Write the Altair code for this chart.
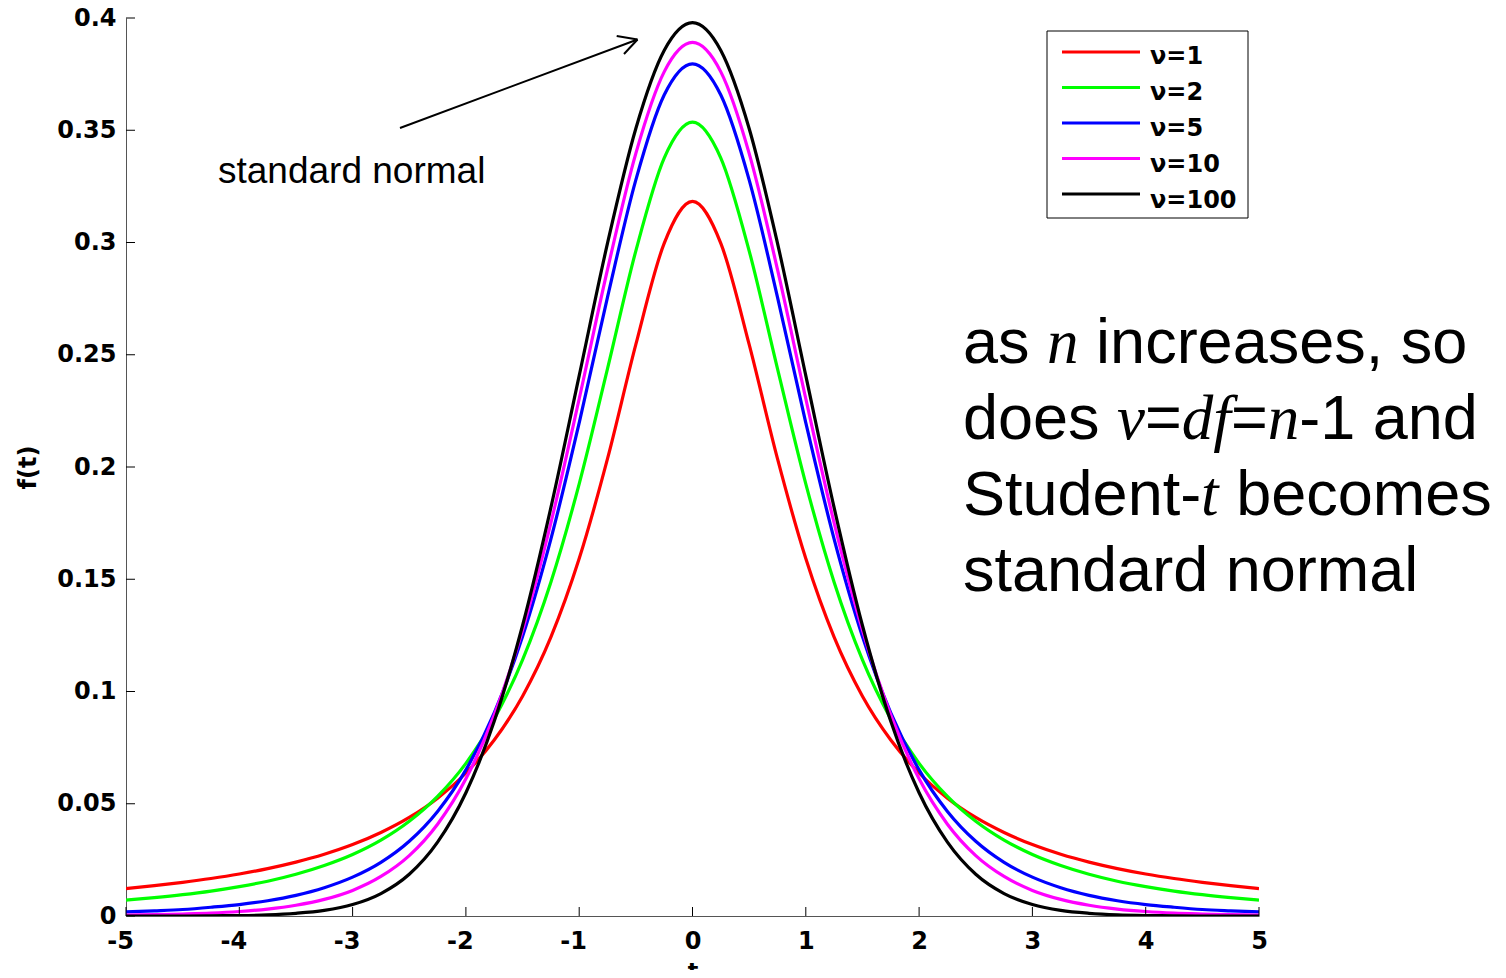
import altair as alt
import pandas as pd

# ---------------- data ----------------
T = [-5.0, -4.75, -4.5, -4.25, -4.0, -3.75, -3.5, -3.25, -3.0, -2.75, -2.5,
     -2.25, -2.0, -1.75, -1.5, -1.25, -1.0, -0.75, -0.5, -0.25, 0.0,
     0.25, 0.5, 0.75, 1.0, 1.25, 1.5, 1.75, 2.0, 2.25, 2.5,
     2.75, 3.0, 3.25, 3.5, 3.75, 4.0, 4.25, 4.5, 4.75, 5.0]

NU1 = [0.0122, 0.0135, 0.0150, 0.0167, 0.0187, 0.0211, 0.0240, 0.0275, 0.0318, 0.0372, 0.0439,
       0.0525, 0.0637, 0.0784, 0.0979, 0.1242, 0.1592, 0.2037, 0.2546, 0.2996, 0.3183,
       0.2996, 0.2546, 0.2037, 0.1592, 0.1242, 0.0979, 0.0784, 0.0637, 0.0525, 0.0439,
       0.0372, 0.0318, 0.0275, 0.0240, 0.0211, 0.0187, 0.0167, 0.0150, 0.0135, 0.0122]
NU2 = [0.0071, 0.0082, 0.0095, 0.0111, 0.0131, 0.0155, 0.0186, 0.0225, 0.0274, 0.0338, 0.0422,
       0.0533, 0.0680, 0.0878, 0.1141, 0.1487, 0.1925, 0.2438, 0.2963, 0.3376, 0.3536,
       0.3376, 0.2963, 0.2438, 0.1925, 0.1487, 0.1141, 0.0878, 0.0680, 0.0533, 0.0422,
       0.0338, 0.0274, 0.0225, 0.0186, 0.0155, 0.0131, 0.0111, 0.0095, 0.0082, 0.0071]
NU5 = [0.0018, 0.0023, 0.0029, 0.0039, 0.0051, 0.0068, 0.0092, 0.0126, 0.0173, 0.0239, 0.0333,
       0.0466, 0.0651, 0.0905, 0.1245, 0.1679, 0.2197, 0.2757, 0.3279, 0.3657, 0.3796,
       0.3657, 0.3279, 0.2757, 0.2197, 0.1679, 0.1245, 0.0905, 0.0651, 0.0466, 0.0333,
       0.0239, 0.0173, 0.0126, 0.0092, 0.0068, 0.0051, 0.0039, 0.0029, 0.0023, 0.0018]
NU10 = [0.0004, 0.0006, 0.0009, 0.0013, 0.0020, 0.0031, 0.0048, 0.0074, 0.0114, 0.0176, 0.0269,
        0.0409, 0.0611, 0.0895, 0.1274, 0.1751, 0.2304, 0.2880, 0.3397, 0.3760, 0.3891,
        0.3760, 0.3397, 0.2880, 0.2304, 0.1751, 0.1274, 0.0895, 0.0611, 0.0409, 0.0269,
        0.0176, 0.0114, 0.0074, 0.0048, 0.0031, 0.0020, 0.0013, 0.0009, 0.0006, 0.0004]
NU100 = [0.0000, 0.0000, 0.0000, 0.0001, 0.0002, 0.0005, 0.0012, 0.0025, 0.0051, 0.0100, 0.0186,
         0.0329, 0.0549, 0.0867, 0.1294, 0.1819, 0.2407, 0.2997, 0.3508, 0.3855, 0.3979,
         0.3855, 0.3508, 0.2997, 0.2407, 0.1819, 0.1294, 0.0867, 0.0549, 0.0329, 0.0186,
         0.0100, 0.0051, 0.0025, 0.0012, 0.0005, 0.0002, 0.0001, 0.0000, 0.0000, 0.0000]

SERIES = ["ν=1", "ν=2", "ν=5", "ν=10", "ν=100"]
VALUES = [NU1, NU2, NU5, NU10, NU100]
COLORS = ["#ff0000", "#00ff00", "#0000ff", "#ff00ff", "#000000"]

X_TICKS = [-5, -4, -3, -2, -1, 0, 1, 2, 3, 4, 5]
Y_TICKS = [0, 0.05, 0.1, 0.15, 0.2, 0.25, 0.3, 0.35, 0.4]

# ---------------- layout ----------------
W, H = 1133, 898
AX_FONT = "DejaVu Sans"
SANS = "Liberation Sans"
SERIF = "Liberation Serif"

xscale = alt.Scale(domain=[-5, 5], nice=False, zero=False)
yscale = alt.Scale(domain=[0, 0.4], nice=False, zero=False)

X_AXIS = alt.Axis(
    values=X_TICKS, labelExpr="'' + datum.value", title="t",
    labelFont=AX_FONT, labelFontSize=24, labelFontWeight="bold", labelColor="black",
    labelPadding=13, labelFlush=False, labelOverlap=False, ticks=False, grid=False,
    labelOffset={"condition": {"test": "datum.value < 0", "value": -6}, "value": 0},
    domainColor="#555555", domainWidth=1,
    titleFont=AX_FONT, titleFontSize=22, titleFontWeight="bold", titleColor="black",
    titleX=W / 2, titleY=44, titleAlign="center", titleBaseline="top",
)
Y_AXIS = alt.Axis(
    values=Y_TICKS, labelExpr="'' + datum.value", title="f(t)",
    labelFont=AX_FONT, labelFontSize=24, labelFontWeight="bold", labelColor="black",
    labelPadding=10, labelFlush=False, labelOverlap=False, ticks=False, grid=False,
    domainColor="#555555", domainWidth=1,
    titleFont=AX_FONT, titleFontSize=24, titleFontWeight="bold", titleColor="black",
    titleX=-98, titleY=H / 2, titleAngle=270, titleAlign="center", titleBaseline="middle",
)

layers = []

# curves, drawn in order so that nu=100 is on top
for name, vals, col in zip(SERIES, VALUES, COLORS):
    df = pd.DataFrame({"t": T, "f": vals})
    layers.append(
        alt.Chart(df).mark_line(strokeWidth=3.2, interpolate="monotone", color=col, clip=True).encode(
            x=alt.X("t:Q", scale=xscale, axis=X_AXIS),
            y=alt.Y("f:Q", scale=yscale, axis=Y_AXIS),
        )
    )

# inward tick marks
xt = pd.DataFrame({"t": X_TICKS})
layers.append(
    alt.Chart(xt).mark_rule(color="black", strokeWidth=1).encode(
        x=alt.X("t:Q", scale=xscale, axis=X_AXIS),
        y=alt.value(H), y2=alt.value(H - 9),
    )
)
yt = pd.DataFrame({"f": Y_TICKS})
layers.append(
    alt.Chart(yt).mark_rule(color="black", strokeWidth=1).encode(
        y=alt.Y("f:Q", scale=yscale, axis=Y_AXIS),
        x=alt.value(0), x2=alt.value(9),
    )
)

one = pd.DataFrame({"_": [0]})

# legend box
layers.append(
    alt.Chart(one).mark_rect(fill="white", stroke="black", strokeWidth=1).encode(
        x=alt.value(921), x2=alt.value(1122), y=alt.value(13), y2=alt.value(200)
    )
)
leg = pd.DataFrame({"name": SERIES, "rank": list(range(len(SERIES)))})
layers.append(
    alt.Chart(leg).transform_calculate(py="34 + datum.rank * 35.5").mark_rule(strokeWidth=3).encode(
        x=alt.value(936), x2=alt.value(1014),
        y=alt.Y("py:Q", scale=None),
        color=alt.Color("name:N", scale=alt.Scale(domain=SERIES, range=COLORS), legend=None),
    )
)
layers.append(
    alt.Chart(leg).transform_calculate(py="39 + datum.rank * 36").mark_text(
        font=AX_FONT, fontSize=24, fontWeight="bold", color="black", align="left", baseline="middle"
    ).encode(
        x=alt.value(1024),
        y=alt.Y("py:Q", scale=None),
        text="name:N",
    )
)

# arrow + "standard normal"
layers.append(alt.Chart(one).mark_rule(color="black", strokeWidth=2).encode(
    x=alt.value(274), y=alt.value(110), x2=alt.value(511.5), y2=alt.value(21.5)))
layers.append(alt.Chart(one).mark_rule(color="black", strokeWidth=2).encode(
    x=alt.value(490.7), y=alt.value(18), x2=alt.value(511.5), y2=alt.value(21.5)))
layers.append(alt.Chart(one).mark_rule(color="black", strokeWidth=2).encode(
    x=alt.value(498), y=alt.value(36), x2=alt.value(511.5), y2=alt.value(21.5)))
layers.append(alt.Chart(one).mark_text(
    font=SANS, fontSize=37, color="black", align="left", baseline="alphabetic", text="standard normal"
).encode(x=alt.value(92), y=alt.value(165)))

# big annotation, mixed upright sans and italic serif
SEGMENTS = [
    ("as", 837, 345, False), ("n", 921.1, 345, True), ("increases, so", 970.1, 345, False),
    ("does", 837, 421, False), ("v", 991.1, 421, True), ("=", 1019.0, 421, False),
    ("df", 1055.8, 421, True), ("=", 1104.9, 421, False), ("n", 1141.7, 421, True),
    ("-1 and", 1173.2, 421, False),
    ("Student-", 837, 497, False), ("t", 1075.1, 497, True), ("becomes", 1110.2, 497, False),
    ("standard normal", 837, 573, False),
]
for txt, px, py, ital in SEGMENTS:
    layers.append(alt.Chart(one).mark_text(
        font=SERIF if ital else SANS, fontStyle="italic" if ital else "normal",
        fontSize=63, color="black", align="left", baseline="alphabetic", text=txt
    ).encode(x=alt.value(px), y=alt.value(py)))

chart = alt.layer(*layers).properties(
    width=W, height=H,
    padding={"left": 118, "top": 10, "right": 239, "bottom": 54},
    autosize=alt.AutoSizeParams(type="none"),
    background="white",
).configure_view(stroke=None)

chart.save("out.html", embed_options={"renderer": "svg", "actions": False})
